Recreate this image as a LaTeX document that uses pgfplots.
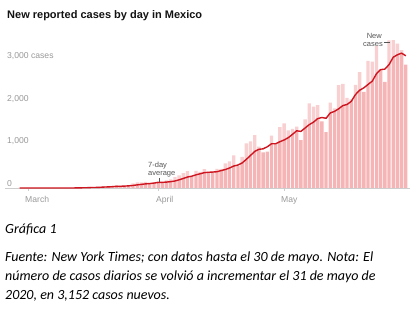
\documentclass[border=0pt]{standalone}
\usepackage{pgfplots}
\pgfplotsset{compat=1.18}
\usepackage{pgfplotstable}
\usepackage{fontspec}
\setmainfont{Liberation Sans}
\newfontfamily\capfont{Carlito}
\definecolor{nytred}{RGB}{206,22,32}
\definecolor{barpink}{RGB}{245,180,181}
\definecolor{tickgray}{RGB}{153,153,153}
\definecolor{basegray}{RGB}{205,205,205}
\definecolor{notegray}{RGB}{85,85,85}
\definecolor{titleblack}{RGB}{18,18,18}
\pgfplotstableread{
day cases avg
-2 2 0.29
-1 2 0.57
0 1 0.71
1 0 0.71
2 0 0.71
3 0 0.71
4 0 0.71
5 1 0.57
6 1 0.43
7 0 0.29
8 0 0.29
9 0 0.29
10 1 0.43
11 4 1.0
12 14 2.86
13 15 4.86
14 12 6.57
15 29 10.7
16 11 12.3
17 25 15.7
18 46 21.7
19 39 25.3
20 48 30.0
21 65 37.6
22 51 40.7
23 38 44.6
24 70 51.0
25 110 60.1
26 132 73.4
27 131 85.3
28 145 96.7
29 101 103.9
30 121 115.7
31 163 129.0
32 132 132.1
33 178 138.7
34 202 148.9
35 253 164.3
36 296 192.1
37 346 224.3
38 396 257.6
39 260 275.9
40 403 308.0
41 375 332.7
42 442 359.7
43 353 367.9
44 385 373.4
45 448 380.9
46 450 408.0
47 578 433.0
48 622 468.3
49 764 514.3
50 511 536.9
51 729 586.0
52 1043 671.0
53 1089 762.3
54 1239 856.7
55 970 906.4
56 835 916.6
57 852 965.3
58 1223 1035.9
59 1047 1036.4
60 1425 1084.4
61 1515 1123.9
62 1349 1178.0
63 1383 1256.3
64 1434 1339.4
65 1120 1324.7
66 1609 1405.0
67 1982 1484.6
68 1906 1540.4
69 1938 1624.6
70 1562 1650.1
71 1305 1631.7
72 1997 1757.0
73 1862 1793.1
74 2409 1854.1
75 2437 1930.0
76 2112 1954.9
77 2075 2028.1
78 2414 2186.6
79 2713 2288.9
80 2248 2344.0
81 2973 2424.6
82 2960 2499.3
83 3329 2673.1
84 2764 2771.6
85 2485 2781.7
86 3455 2887.7
87 3463 3061.3
88 3377 3119.0
89 3227 3157.1
90 2885 3093.7
}\mexico
\begin{document}
\begin{tikzpicture}
\path[use as bounding box] (0pt,0pt) rectangle (418pt,-323pt);
\begin{axis}[
  at={(5pt,-188pt)}, anchor=south west,
  scale only axis, width=405pt, height=153.8pt,
  xmin=-5.5, xmax=91, ymin=0, ymax=3600,
  axis x line*=bottom, axis y line=none,
  x axis line style={basegray, line width=0.6pt, -},
  xtick={0,31,61}, xticklabels={},
  major tick length=3pt, tick align=outside,
  tick style={basegray, line width=0.6pt},
  ytick=\empty,
  clip=false,
]
\addplot[ybar, bar width=0.8, bar shift=0pt, fill=barpink, draw=none] table[x=day,y=cases]{\mexico};
\addplot[fill=white, fill opacity=0.38, draw=none] table[x=day,y=avg]{\mexico} -- (axis cs:90.5,3093.7) -- (axis cs:90.5,3600) -- (axis cs:-2,3600) -- cycle;
\addplot[nytred, line width=1.4pt, mark=none, line join=round] table[x=day,y=avg]{\mexico};
\end{axis}
% title
\node[anchor=base west, inner sep=0pt, text=titleblack, font=\bfseries\fontsize{11}{13}\selectfont] at (7pt,-19pt) {New reported cases by day in Mexico};
% axis labels
\begin{scope}[every node/.style={anchor=base west, inner sep=0pt, text=tickgray, font=\fontsize{8.6}{10}\selectfont}]
\node at (7pt,-58.3pt) {3,000 cases};
\node at (7pt,-101.1pt) {2,000};
\node at (7pt,-143.8pt) {1,000};
\node at (7pt,-186.5pt) {0};
\node at (25pt,-203pt) {March};
\node at (156pt,-203pt) {April};
\node at (281pt,-203pt) {May};
\end{scope}
% annotations
\begin{scope}[every node/.style={inner sep=0pt, text=notegray, font=\fontsize{7.5}{9}\selectfont}]
\node[anchor=base west] at (148pt,-168pt) {7-day};
\node[anchor=base west] at (148pt,-175.5pt) {average};
\node[anchor=base east] at (382pt,-38.5pt) {New};
\node[anchor=base east] at (383pt,-47pt) {cases};
\end{scope}
\draw[notegray, line width=0.5pt] (159.3pt,-177.8pt) -- (159.3pt,-182pt);
\draw[notegray, line width=0.6pt] (383.5pt,-42pt) -- (390pt,-42pt);
% caption
\begin{scope}[every node/.style={anchor=base west, inner sep=0pt, text=black, font=\capfont\itshape\fontsize{14}{19}\selectfont}]
\node at (5pt,-234pt) {Gráfica 1};
\node at (5pt,-262pt) {Fuente: New York Times; con datos hasta el 30 de mayo. Nota: El};
\node at (5pt,-281pt) {número de casos diarios se volvió a incrementar el 31 de mayo de};
\node at (5pt,-300pt) {2020, en 3,152 casos nuevos.};
\end{scope}
\end{tikzpicture}
\end{document}
